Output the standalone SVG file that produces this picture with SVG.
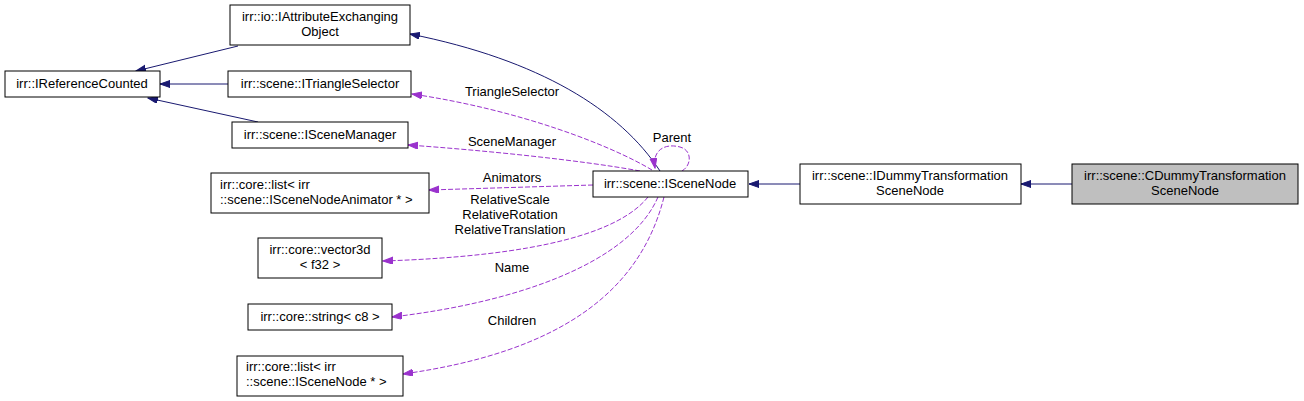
<svg xmlns="http://www.w3.org/2000/svg" width="1304" height="401" viewBox="0 0 1304 401">
<defs>
<style>
.n rect{fill:#fff;stroke:#000;stroke-width:1}
.n.h rect{fill:#bfbfbf}
text{font-family:"Liberation Sans",Arial,sans-serif;font-size:13px;fill:#000}
.c{text-anchor:middle}
.inh{fill:none;stroke:#191970;stroke-width:1;marker-end:url(#an)}
.use{fill:none;stroke:#9a32cd;stroke-width:1;stroke-dasharray:5,2;marker-end:url(#ap)}
</style>
<marker id="an" markerUnits="userSpaceOnUse" markerWidth="11" markerHeight="8" refX="10" refY="3.5" orient="auto"><path d="M0,0 L10,3.5 L0,7 z" fill="#191970" stroke="#191970"/></marker>
<marker id="ap" markerUnits="userSpaceOnUse" markerWidth="11" markerHeight="8" refX="10" refY="3.5" orient="auto"><path d="M0,0 L10,3.5 L0,7 z" fill="#9a32cd" stroke="#9a32cd"/></marker>
</defs>
<rect width="1304" height="401" fill="#fff"/>
<g id="connectors">
<path class="inh" d="M238,46 L136,71"/>
<path class="inh" d="M228,84 L160,84"/>
<path class="inh" d="M258,122 L148,98"/>
<path class="inh" d="M660,171 C620,110 540,60 410,34"/>
<path class="inh" d="M800,184 L749,184"/>
<path class="inh" d="M1072,184 L1021,184"/>
<path class="use" d="M652,170 C610,145 520,110 412,94"/>
<path class="use" d="M640,171 C580,160 480,150 408,145"/>
<path class="use" d="M593,185 L429,190"/>
<path class="use" d="M648,197 C620,232 540,256 383,261"/>
<path class="use" d="M658,197 C630,262 520,302 392,317"/>
<path class="use" d="M664,197 C640,292 560,352 403,374"/>
<path class="use" d="M682,171 C692,165 692,150 680,147 C665,143 652,150 655,168"/>
<text class="c" x="512" y="96">TriangleSelector</text>
<text class="c" x="512" y="146">SceneManager</text>
<text class="c" x="672" y="142">Parent</text>
<text class="c" x="512" y="182">Animators</text>
<text class="c" x="510" y="204">RelativeScale</text>
<text class="c" x="510" y="219">RelativeRotation</text>
<text class="c" x="510" y="234">RelativeTranslation</text>
<text class="c" x="512" y="272">Name</text>
<text class="c" x="512" y="325">Children</text>
</g>
<g id="IReferenceCounted" class="n"><rect x="5" y="71" width="155" height="26"/><text class="c" x="82" y="88">irr::IReferenceCounted</text></g>
<g id="IAttributeExchangingObject" class="n"><rect x="230" y="5" width="180" height="40"/><text class="c" x="320" y="21">irr::io::IAttributeExchanging</text><text class="c" x="320" y="36">Object</text></g>
<g id="ITriangleSelector" class="n"><rect x="228" y="71" width="183" height="26"/><text class="c" x="320" y="88">irr::scene::ITriangleSelector</text></g>
<g id="ISceneManager" class="n"><rect x="232" y="122" width="176" height="26"/><text class="c" x="320" y="139">irr::scene::ISceneManager</text></g>
<g id="ListAnimator" class="n"><rect x="211" y="173" width="218" height="40"/><text x="220" y="189">irr::core::list&lt; irr</text><text x="220" y="204">::scene::ISceneNodeAnimator * &gt;</text></g>
<g id="Vector3d" class="n"><rect x="258" y="238" width="124" height="40"/><text class="c" x="320" y="254">irr::core::vector3d</text><text class="c" x="320" y="269">&lt; f32 &gt;</text></g>
<g id="StringC8" class="n"><rect x="248" y="304" width="144" height="26"/><text class="c" x="320" y="321">irr::core::string&lt; c8 &gt;</text></g>
<g id="ListSceneNode" class="n"><rect x="237" y="356" width="166" height="40"/><text x="246" y="371">irr::core::list&lt; irr</text><text x="246" y="386">::scene::ISceneNode * &gt;</text></g>
<g id="ISceneNode" class="n"><rect x="593" y="171" width="155" height="26"/><text class="c" x="670" y="188">irr::scene::ISceneNode</text></g>
<g id="IDummyTransformationSceneNode" class="n"><rect x="800" y="164" width="221" height="40"/><text class="c" x="910" y="180">irr::scene::IDummyTransformation</text><text class="c" x="910" y="195">SceneNode</text></g>
<g id="CDummyTransformationSceneNode" class="n h"><rect x="1072" y="164" width="226" height="40"/><text class="c" x="1185" y="180">irr::scene::CDummyTransformation</text><text class="c" x="1185" y="195">SceneNode</text></g>
</svg>
